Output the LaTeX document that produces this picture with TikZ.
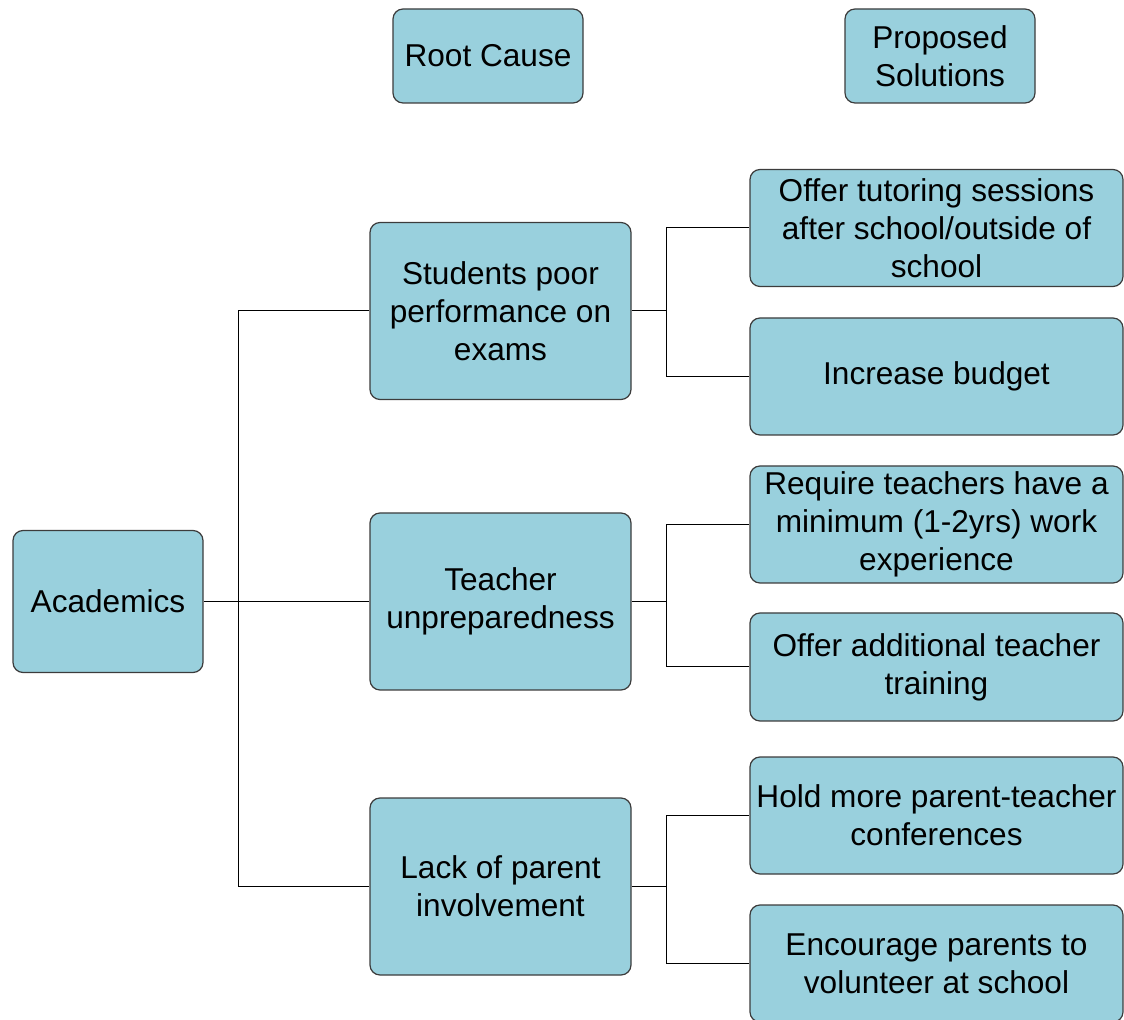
\documentclass[tikz,border=0pt]{standalone}
\usepackage{fontspec}
\setmainfont{Liberation Sans}
\usepackage{xcolor}
\usetikzlibrary{positioning,calc}

\definecolor{boxfill}{RGB}{153,208,221}
\definecolor{boxline}{RGB}{60,60,60}

\begin{document}
\begin{tikzpicture}[
  x=0.5pt, y=-0.5pt,
  box/.style={draw=boxline, fill=boxfill, line width=0.6pt, rounded corners=5pt,
    align=center, inner sep=0pt, font=\fontsize{15.8}{19}\selectfont},
  head/.style={box, minimum width=95pt, minimum height=47pt},
  cause/.style={box, minimum width=130.5pt, minimum height=88.5pt},
  sol/.style={box, minimum width=186.5pt, minimum height=58.5pt},
  conn/.style={line width=0.5pt}
]
\useasboundingbox (0,0) rectangle (1124,1020);

% headings
\node[head] (root) at (488,56) {Root Cause};
\node[head] (prop) at (940,56) {Proposed\\Solutions};

% problem and root causes
\node[box, minimum width=95pt, minimum height=71pt] (acad) at (108,601.5) {Academics};
\node[cause] (stud) at (500.5,311) {Students poor\\performance on\\exams};
\node[cause] (teach) at (500.5,601.5) {Teacher\\unpreparedness};
\node[cause] (lack) at (500.5,886.5) {Lack of parent\\involvement};

% solutions
\node[sol] (tut) at (936.5,228) {Offer tutoring sessions\\after school/outside of\\school};
\node[sol] (bud) at (936.5,376.5) {Increase budget};
\node[sol] (req) at (936.5,524.5) {Require teachers have a\\minimum (1-2yrs) work\\experience};
\node[sol, minimum height=54pt] (add) at (936.5,667) {Offer additional teacher\\training};
\node[sol] (hold) at (936.5,815.5) {Hold more parent-teacher\\conferences};
\node[sol] (enc) at (936.5,963.5) {Encourage parents to\\volunteer at school};

% junctions
\coordinate (ja) at (238,601.5);
\coordinate (js) at (666,311);
\coordinate (jt) at (666,601.5);
\coordinate (jl) at (666,886.5);

% connectors
\draw[conn] (acad.east) -- (ja);
\foreach \c in {stud,teach,lack}
  \draw[conn] (ja) |- (\c.west);
\draw[conn] (stud.east) -- (js);
\draw[conn] (teach.east) -- (jt);
\draw[conn] (lack.east) -- (jl);
\foreach \j/\s in {js/tut,js/bud,jt/req,jt/add,jl/hold,jl/enc}
  \draw[conn] (\j) |- (\s.west);
\end{tikzpicture}
\end{document}
